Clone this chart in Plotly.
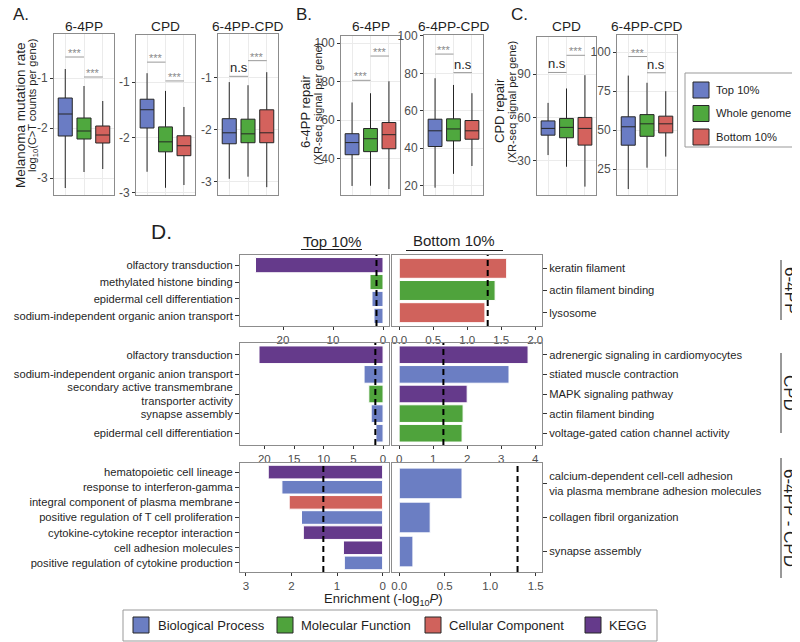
import math
import plotly.graph_objects as go

W, H = 800, 642
PAGE_OFFSET = 8  # the page body margin shifts the figure by 8px
FONT = "Liberation Sans, Arial, sans-serif"
INK = "#1f1f1f"
GRID = "#ebebeb"
FRAME = "#8c8c8c"

# --- panels A-C: box statistics per group (lower whisker, Q1, median, Q3, upper whisker)
GROUPS = ["Top 10%", "Whole genome", "Bottom 10%"]
GROUP_COLORS = ["#6a7cc4", "#4fa83e", "#d4625d"]

mut_64pp = [(-3.20, -2.16, -1.72, -1.40, -0.82),
            (-2.88, -2.22, -2.06, -1.80, -1.16),
            (-2.82, -2.30, -2.14, -1.96, -1.46)]
mut_cpd = [(-2.62, -1.83, -1.50, -1.31, -0.84),
           (-2.91, -2.26, -2.08, -1.81, -1.16),
           (-2.86, -2.33, -2.15, -1.97, -1.45)]
mut_diff = [(-2.94, -2.27, -2.06, -1.79, -1.09),
            (-2.90, -2.25, -2.08, -1.80, -1.15),
            (-3.10, -2.25, -2.06, -1.62, -0.90)]
rep64_64pp = [(25.9, 42.1, 48.4, 53.0, 69.2),
              (26.0, 43.7, 50.4, 55.7, 74.0),
              (24.3, 45.2, 52.5, 58.8, 80.2)]
rep64_diff = [(18.9, 40.9, 49.3, 55.5, 77.4),
              (26.3, 43.9, 50.3, 55.7, 73.8),
              (30.5, 44.8, 49.3, 54.8, 69.4)]
repcpd_cpd = [(33.9, 47.7, 52.4, 57.6, 70.1),
              (25.8, 45.9, 53.1, 59.3, 80.1),
              (12.0, 40.8, 52.4, 60.0, 89.3)]
repcpd_diff = [(12.3, 40.4, 52.2, 58.6, 85.0),
               (26.0, 46.1, 54.1, 60.0, 80.4),
               (33.1, 48.3, 54.1, 59.0, 75.0)]

# significance: (Top vs Whole, Whole vs Bottom)
sig_mut_64pp = [("***", -0.58), ("***", -0.98)]
sig_mut_cpd = [("***", -0.64), ("***", -0.98)]
sig_mut_diff = [("n.s", -0.98), ("***", -0.68)]
sig_rep64_64pp = [("***", 80.7), ("***", 93.3)]
sig_rep64_diff = [("***", 90.3), ("n.s", 80.4)]
sig_repcpd_cpd = [("n.s", 91.2), ("***", 103.1)]
sig_repcpd_diff = [("***", 97.2), ("n.s", 86.8)]

# --- panel D: enrichment (-log10 P)
GO_CATS = ["Biological Process", "Molecular Function", "Cellular Component", "KEGG"]
GO_COLORS = {"Biological Process": "#6b7ec3", "Molecular Function": "#4fa33c",
             "Cellular Component": "#d0625c", "KEGG": "#653a8b"}

top_64pp_terms = ["olfactory transduction", "methylated histone binding",
                  "epidermal cell differentiation", "sodium-independent organic anion transport"]
top_64pp_vals = [25.5, 2.6, 2.2, 1.8]
top_64pp_cats = ["KEGG", "Molecular Function", "Biological Process", "Biological Process"]

bot_64pp_terms = ["keratin filament", "actin filament binding", "lysosome"]
bot_64pp_vals = [1.58, 1.41, 1.26]
bot_64pp_cats = ["Cellular Component", "Molecular Function", "Cellular Component"]

top_cpd_terms = ["olfactory transduction", "sodium-independent organic anion transport",
                 "secondary active transmembrane<br>transporter activity", "synapse assembly",
                 "epidermal cell differentiation"]
top_cpd_vals = [20.9, 3.2, 2.4, 2.0, 1.2]
top_cpd_cats = ["KEGG", "Biological Process", "Molecular Function", "Biological Process",
                "Biological Process"]

bot_cpd_terms = ["adrenergic signaling in cardiomyocytes", "stiated muscle contraction",
                 "MAPK signaling pathway", "actin filament binding",
                 "voltage-gated cation channel activity"]
bot_cpd_vals = [3.79, 3.23, 2.0, 1.88, 1.85]
bot_cpd_cats = ["KEGG", "Biological Process", "KEGG", "Molecular Function", "Molecular Function"]

top_diff_terms = ["hematopoietic cell lineage", "response to interferon-gamma",
                  "integral component of plasma membrane",
                  "positive regulation of T cell proliferation",
                  "cytokine-cytokine receptor interaction", "cell adhesion molecules",
                  "positive regulation of cytokine production"]
top_diff_vals = [2.51, 2.21, 2.05, 1.78, 1.74, 0.86, 0.84]
top_diff_cats = ["KEGG", "Biological Process", "Cellular Component", "Biological Process",
                 "KEGG", "KEGG", "Biological Process"]

bot_diff_terms = ["calcium-dependent cell-cell adhesion<br>via plasma membrane adhesion molecules",
                  "collagen fibril organization", "synapse assembly"]
bot_diff_vals = [0.69, 0.34, 0.15]
bot_diff_cats = ["Biological Process", "Biological Process", "Biological Process"]

SIG_THRESHOLD = -math.log10(0.05)


def fx(p):
    return (p - PAGE_OFFSET) / W


def fy(p):
    return 1 - (p - PAGE_OFFSET) / H


def ref(kind, n):
    return kind if n == 1 else f"{kind}{n}"


def key(kind, n):
    return f"{kind}axis" if n == 1 else f"{kind}axis{n}"


fig = go.Figure()
annotations, shapes, axes = [], [], {}


def note(text, x, y, size, color=INK, xanchor="center", **kw):
    annotations.append(dict(text=text, x=fx(x), y=fy(y), xref="paper", yref="paper",
                            xanchor=xanchor, yanchor="middle", showarrow=False,
                            font=dict(size=size, family=FONT, color=color), **kw))


def hline(x0, x1, y, color=INK, width=1):
    shapes.append(dict(type="line", xref="paper", yref="paper", x0=fx(x0), x1=fx(x1),
                       y0=fy(y), y1=fy(y), line=dict(color=color, width=width)))


def box(x0, x1, y0, y1, fill, line_color, width=1):
    shapes.append(dict(type="rect", xref="paper", yref="paper", x0=fx(x0), x1=fx(x1),
                       y0=fy(y1), y1=fy(y0), fillcolor=fill,
                       line=dict(color=line_color, width=width)))


# ---- top row box plots
top_panels = [
    (mut_64pp, sig_mut_64pp, "6-4PP", (54, 114), (34, 195), [-3.34, -0.12], [-3, -2, -1]),
    (mut_cpd, sig_mut_cpd, "CPD", (136, 195), (35, 195), [-3.04, -0.15], [-3, -2, -1]),
    (mut_diff, sig_mut_diff, "6-4PP-CPD", (218, 278), (34, 195), [-3.25, -0.17], [-3, -2, -1]),
    (rep64_64pp, sig_rep64_64pp, "6-4PP", (341, 400), (36, 195), [21.2, 103.7], [40, 60, 80, 100]),
    (rep64_diff, sig_rep64_diff, "6-4PP-CPD", (424, 483), (35, 195), [15, 100.5], [20, 40, 60, 80, 100]),
    (repcpd_cpd, sig_repcpd_cpd, "CPD", (537, 596), (37, 195), [6.2, 115.8], [30, 60, 90]),
    (repcpd_diff, sig_repcpd_diff, "6-4PP-CPD", (617, 677), (35, 195), [8.5, 111], [25, 50, 75, 100]),
]

for n, (stats, sig, title, xd, yd, yr, ticks) in enumerate(top_panels, start=1):
    xa, ya = ref("x", n), ref("y", n)
    for g, (lo, q1, med, q3, hi) in enumerate(stats):
        fig.add_trace(go.Box(x=[GROUPS[g]], lowerfence=[lo], q1=[q1], median=[med], q3=[q3],
                             upperfence=[hi], fillcolor=GROUP_COLORS[g],
                             line=dict(color="#262626", width=1), width=0.75, whiskerwidth=0,
                             boxpoints=False, showlegend=False, hoverinfo="skip",
                             xaxis=xa, yaxis=ya))
    axes[key("x", n)] = dict(domain=[fx(xd[0]), fx(xd[1])], anchor=ya, type="category",
                             categoryorder="array", categoryarray=GROUPS, range=[-0.6, 2.6],
                             showticklabels=False, ticks="", showgrid=True, gridcolor=GRID,
                             showline=True, mirror=True, linecolor=FRAME, zeroline=False)
    axes[key("y", n)] = dict(domain=[fy(yd[1]), fy(yd[0])], anchor=xa, range=yr,
                             tickvals=ticks, ticktext=[str(t) for t in ticks],
                             ticks="outside", ticklen=3, tickcolor="#333333",
                             tickfont=dict(size=12, color="#4d4d4d", family=FONT),
                             showgrid=True, gridcolor=GRID, showline=True, mirror=True,
                             linecolor=FRAME, zeroline=False)
    for k, (label, yv) in enumerate(sig):
        shapes.append(dict(type="line", xref=xa, yref=ya, x0=k, x1=k + 1, y0=yv, y1=yv,
                           line=dict(color="#9a9a9a", width=1)))
        star = label == "***"
        annotations.append(dict(text=label, x=k + 0.5, y=yv, xref=xa, yref=ya, showarrow=False,
                                xanchor="center", yanchor="bottom", yshift=-4 if star else -1,
                                font=dict(size=11 if star else 13, family=FONT,
                                          color="#8a8a8a" if star else INK)))
    note(title, (xd[0] + xd[1]) / 2, 27, 13.7)

# panel letters and y titles
note("A.", 21, 15, 17)
note("B.", 304, 15, 17)
note("C.", 519, 14, 17)
note("D.", 161, 231, 21)
note("Melanoma mutation rate", 21, 115, 13.5, textangle=-90)
note("log<sub>10</sub>(C&gt;T counts per gene)", 33, 106, 11, textangle=-90)
note("6-4PP repair", 305, 112, 13, textangle=-90)
note("(XR-seq signal per gene)", 318, 104, 11, textangle=-90)
note("CPD repair", 500, 111, 13, textangle=-90)
note("(XR-seq signal per gene)", 512, 102, 11, textangle=-90)

# top-right legend
box(685, 798, 73, 147, "white", "#999999")
for g, name in enumerate(GROUPS):
    yc = 90 + g * 23.5
    box(693, 709, yc - 8, yc + 8, GROUP_COLORS[g], "#262626")
    note(name, 714, yc, 11.2, xanchor="left")

# ---- panel D bar charts
d_panels = [
    (top_64pp_terms, top_64pp_vals, top_64pp_cats, "left", (240, 389), (255, 326), [28.6, -1.2], [0, 10, 20], None),
    (bot_64pp_terms, bot_64pp_vals, bot_64pp_cats, "right", (392, 542), (255, 326), [-0.107, 2.1], [0, 0.5, 1, 1.5, 2], ".1f"),
    (top_cpd_terms, top_cpd_vals, top_cpd_cats, "left", (240, 389), (343, 445), [24.1, -1.0], [0, 5, 10, 15, 20], None),
    (bot_cpd_terms, bot_cpd_vals, bot_cpd_cats, "right", (392, 542), (343, 445), [-0.21, 4.2], [0, 1, 2, 3, 4], None),
    (top_diff_terms, top_diff_vals, top_diff_cats, "left", (240, 389), (463, 572), [3.13, -0.14], [0, 1, 2, 3], None),
    (bot_diff_terms, bot_diff_vals, bot_diff_cats, "right", (392, 542), (463, 572), [-0.08, 1.57], [0, 0.5, 1, 1.5], ".1f"),
]

for i, (terms, vals, cats, side, xd, yd, xr, xt, fmt) in enumerate(d_panels):
    n = 8 + i
    xa, ya = ref("x", n), ref("y", n)
    fig.add_trace(go.Bar(x=vals, y=terms, orientation="h", width=0.9,
                         marker=dict(color=[GO_COLORS[c] for c in cats],
                                     line=dict(color="white", width=1)),
                         showlegend=False, hoverinfo="skip", xaxis=xa, yaxis=ya))
    axes[key("x", n)] = dict(domain=[fx(xd[0]), fx(xd[1])], anchor=ya, range=xr, tickvals=xt,
                             tickformat=fmt, ticks="outside", ticklen=3, tickcolor="#333333",
                             tickfont=dict(size=11.5, color="#4d4d4d", family=FONT),
                             showgrid=False, showline=True, mirror=True, linecolor=FRAME,
                             zeroline=False)
    axes[key("y", n)] = dict(domain=[fy(yd[1]), fy(yd[0])], anchor=xa, type="category",
                             categoryorder="array", categoryarray=terms, side=side,
                             range=[len(terms) - 0.4, -0.6], ticks="outside", ticklen=4,
                             tickcolor="#333333", tickfont=dict(size=11.2, color=INK, family=FONT),
                             showgrid=False, showline=True, mirror=True, linecolor=FRAME,
                             zeroline=False)
    shapes.append(dict(type="line", xref=xa, yref=f"{ya} domain", x0=SIG_THRESHOLD,
                       x1=SIG_THRESHOLD, y0=0, y1=1,
                       line=dict(color="black", width=2, dash="6px,4px")))

note("Top 10%", 332, 241, 15)
hline(301, 362, 249.5)
note("Bottom 10%", 454, 240, 15)
hline(406, 503, 250.5)
note("Enrichment (-log<sub>10</sub><i>P</i>)", 383, 599, 13)

for label, yc, y0, y1 in [("6-4PP", 290, 260, 320), ("CPD", 393, 353, 433),
                          ("6-4PP - CPD", 518, 458, 578)]:
    note(label, 790, yc, 17, textangle=90)
    shapes.append(dict(type="line", xref="paper", yref="paper", x0=fx(781), x1=fx(781),
                       y0=fy(y0), y1=fy(y1), line=dict(color="#333333", width=1)))

# bottom legend
box(123, 657, 610, 641, "white", "#999999")
for c, (sx, tx) in zip(GO_CATS, [(133, 156), (277, 299), (425, 447), (585, 607)]):
    box(sx, sx + 16, 617, 633, GO_COLORS[c], "#262626")
    note(c, tx, 625, 13, xanchor="left")

fig.update_layout(
    width=W, height=H, margin=dict(l=0, r=0, t=0, b=0, autoexpand=False),
    paper_bgcolor="white", plot_bgcolor="white",
    font=dict(family=FONT, color=INK), showlegend=False,
    annotations=annotations, shapes=shapes, bargap=0.1,
    **axes,
)

fig.write_html("out.html")
